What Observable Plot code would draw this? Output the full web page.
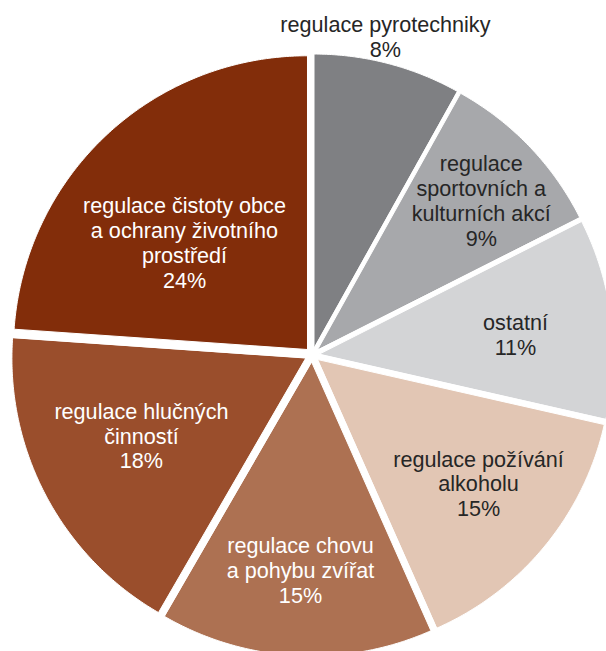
<!DOCTYPE html>
<html><head><meta charset="utf-8">
<script src="https://cdn.jsdelivr.net/npm/d3@7"></script>
<script src="https://cdn.jsdelivr.net/npm/@observablehq/plot@0.6"></script>
<style>html,body{margin:0;padding:0;background:#fff} svg{display:block}</style>
</head><body><div id="chart"></div>
<script>
// ---- data ----
const categories = [
  "regulace pyrotechniky",
  "regulace sportovních a kulturních akcí",
  "ostatní",
  "regulace požívání alkoholu",
  "regulace chovu a pohybu zvířat",
  "regulace hlučných činností",
  "regulace čistoty obce a ochrany životního prostředí"
];
// slice sizes (percent)
const shares = [8.1, 9.45, 11.0, 14.8, 15.0, 17.75, 23.9];
// percentages printed in the labels
const shareLabels = ["8%", "9%", "11%", "15%", "15%", "18%", "24%"];
const labelText = [
  "regulace pyrotechniky",
  "regulace\nsportovních a\nkulturních akcí",
  "ostatní",
  "regulace požívání\nalkoholu",
  "regulace chovu\na pohybu zvířat",
  "regulace hlučných\nčinností",
  "regulace čistoty obce\na ochrany životního\nprostředí"
];
const colors = ["#7f8083", "#a7a8ab", "#d3d4d6", "#e2c6b4", "#ad7152", "#9a4e2c", "#822d0a"];
const labelInk = ["dark", "dark", "dark", "dark", "light", "light", "light"];

// ---- layout ----
const labelRadius = [1.114, 0.781, 0.697, 0.717, 0.736, 0.644, 0.580];
const labelTurn = [-1.62, 1.43, 1.29, -1.72, 0.04, 2.69, -5.63];
const W = 606, H = 651, cx = 311.65, cy = 354.4, R = 293.7, visR = 293.2, explode = 7.4;

const data = categories.map((c, i) => ({cat: c, share: shares[i], i}));
const arcs = d3.pie().sort(null).value(d => d.share)(data);

const slicePts = [];
for (const a of arcs) {
  const mid = (a.startAngle + a.endAngle) / 2;
  const ox = Math.sin(mid) * explode, oy = -Math.cos(mid) * explode;
  const n = Math.max(2, Math.ceil((a.endAngle - a.startAngle) / (Math.PI / 360)));
  slicePts.push({cat: a.data.cat, x: ox, y: oy});
  for (let k = 0; k <= n; k++) {
    const t = a.startAngle + (a.endAngle - a.startAngle) * k / n;
    slicePts.push({cat: a.data.cat, x: ox + Math.sin(t) * R, y: oy - Math.cos(t) * R});
  }
}

const labels = arcs.map(a => {
  const i = a.data.i;
  const mid = (a.startAngle + a.endAngle) / 2 + labelTurn[i] * Math.PI / 180;
  const r = labelRadius[i] * visR;
  return {
    x: Math.sin(mid) * r,
    y: -Math.cos(mid) * r,
    text: labelText[i] + "\n" + shareLabels[i],
    ink: labelInk[i]
  };
});

const font = "'Liberation Sans', Arial, Helvetica, sans-serif";
const chart = Plot.plot({
  width: W, height: H, margin: 0,
  x: {domain: [-cx, W - cx], range: [0, W], axis: null},
  y: {domain: [-cy, H - cy], range: [0, H], axis: null},
  color: {domain: categories, range: colors},
  style: {background: "#fff"},
  marks: [
    Plot.line(slicePts, {x: "x", y: "y", z: "cat", fill: "cat", stroke: "white", strokeWidth: 1, curve: "linear-closed"}),
    Plot.text(labels.filter(d => d.ink === "dark"), {x: "x", y: "y", text: "text", fill: "#262626", fontSize: 21.6, lineHeight: 1.15, fontFamily: font}),
    Plot.text(labels.filter(d => d.ink === "light"), {x: "x", y: "y", text: "text", fill: "#ffffff", fontSize: 21.6, lineHeight: 1.15, fontFamily: font})
  ]
});
document.getElementById("chart").appendChild(chart);
</script>
</body></html>
